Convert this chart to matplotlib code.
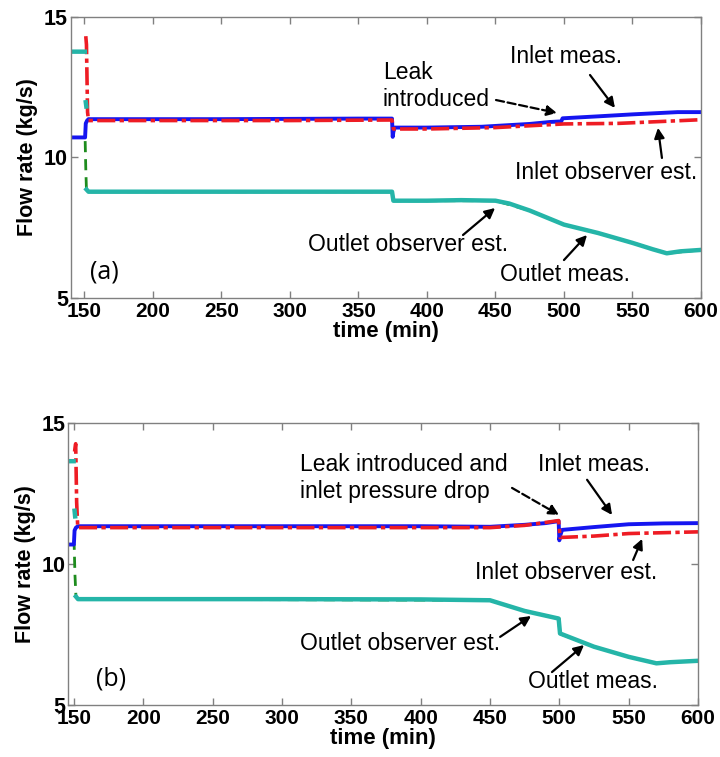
import numpy as np
import matplotlib
matplotlib.use('Agg')
import matplotlib.pyplot as plt

plt.rcParams['font.family'] = ['Liberation Sans', 'DejaVu Sans']

nan = np.nan

# ---- panel (a) data: time (min) / flow rate (kg/s) ----
a_inlet_t = [140, 150.5, 151, 152, 153, 200, 250, 300, 350, 374.5, 375, 375.5, 376.5,
             400, 440, 475, 490, 498, 499, 525, 550, 583, 600]
a_inlet_v = [10.7, 10.7, 11.2, 11.3, 11.35, 11.35, 11.35, 11.36, 11.37, 11.37, 10.72, 10.9, 11.05,
             11.05, 11.08, 11.18, 11.25, 11.27, 11.38, 11.45, 11.52, 11.6, 11.6]

a_obs_in_t = [151, 151.5, 152.3, 153, 200, 300, 374.5, 375.5, 400, 450, 500, 540, 600]
a_obs_in_v = [14.3, 14.0, 11.6, 11.3, 11.3, 11.3, 11.32, 11.0, 11.0, 11.05, 11.18, 11.2, 11.33]

a_out_meas_t = [140, 150.5, 151, 151.5, 153, 374.5, 375.5, 400, 450, 475, 500, 525, 550, 575, 600]
a_out_meas_v = [10.7, 10.7, 9.6, 8.82, 8.77, 8.77, 8.45, 8.45, 8.45, 8.1, 7.6, 7.3, 6.95, 6.58, 6.7]

a_obs_out_t = [140, 150.3, nan, 151, 151.4, nan, 151.5, 153, 200, 250, 300, 350, 374.5, 375.5,
               400, 425, 450, 460, 475, 500, 525, 550, 565, 575, 585, 600]
a_obs_out_v = [13.75, 13.75, nan, 11.95, 11.8, nan, 8.85, 8.77, 8.77, 8.77, 8.77, 8.77, 8.77, 8.45,
               8.45, 8.47, 8.45, 8.35, 8.1, 7.6, 7.3, 6.95, 6.72, 6.58, 6.65, 6.7]

# ---- panel (b) data ----
b_inlet_t = [146, 150, 150.5, 151.5, 153, 200, 300, 400, 450, 475, 490, 499.5, 500, 500.5, 502,
             525, 550, 575, 600]
b_inlet_v = [10.7, 10.7, 11.2, 11.3, 11.35, 11.35, 11.35, 11.35, 11.33, 11.4, 11.46, 11.53, 10.85, 11.0, 11.22,
             11.32, 11.42, 11.45, 11.46]

b_obs_in_t = [150.5, 151.3, 152, 152.8, 200, 300, 400, 450, 475, 499.5, 500.5, 525, 550, 575, 600]
b_obs_in_v = [14.0, 14.28, 12.2, 11.3, 11.3, 11.3, 11.3, 11.3, 11.38, 11.55, 10.95, 11.0, 11.09, 11.12, 11.15]

b_out_meas_t = [146, 150.2, 150.8, 151.5, 153, 450, 475, 499.8, 500, 525, 550, 570, 580, 600]
b_out_meas_v = [10.7, 10.7, 9.6, 8.85, 8.76, 8.72, 8.34, 8.07, 7.54, 7.07, 6.71, 6.48, 6.52, 6.57]

b_obs_out_t = [146, 149.8, nan, 150.5, 150.9, nan, 151.5, 153, 200, 300, 400, 450, 475, 499.5, 500.5,
               525, 550, 570, 580, 600]
b_obs_out_v = [13.66, 13.66, nan, 11.9, 11.7, nan, 8.85, 8.76, 8.76, 8.76, 8.75, 8.72, 8.34, 8.07, 7.54,
               7.07, 6.71, 6.48, 6.52, 6.57]

x_ticks = [150, 200, 250, 300, 350, 400, 450, 500, 550, 600]
y_ticks = [5, 10, 15]

c_blue = '#1515f0'
c_red = '#ee1c24'
c_cyan = '#25b5a8'
c_green = '#1e8c1e'
c_spine = '#808080'

fig = plt.figure(figsize=(7.2, 7.57), dpi=100)
ax_a = fig.add_axes([0.0982, 0.6067, 0.8754, 0.3715])
ax_b = fig.add_axes([0.0949, 0.0687, 0.8746, 0.3719])


def draw_panel(ax, inlet, obs_in, out_meas, obs_out, xlim):
    ax.plot(out_meas[0], out_meas[1], color=c_green, lw=2, ls=(0, (4, 2.5)))
    ax.plot(inlet[0], inlet[1], color=c_blue, lw=2.8)
    ax.plot(obs_in[0], obs_in[1], color=c_red, lw=2.6, ls=(0, (5, 1.2, 1.2, 1.2)))
    ax.plot(obs_out[0], obs_out[1], color=c_cyan, lw=3.2)
    ax.set_xlim(*xlim)
    ax.set_ylim(5, 15)
    ax.set_xticks(x_ticks)
    ax.set_yticks(y_ticks)
    ax.tick_params(direction='in', top=True, right=True, length=5, width=1, color=c_spine)
    ax.tick_params(axis='x', labelsize=15, pad=3)
    ax.tick_params(axis='y', labelsize=15.5, pad=2)
    for lab in ax.get_xticklabels() + ax.get_yticklabels():
        lab.set_fontweight('bold')
    for sp in ax.spines.values():
        sp.set_color(c_spine)
        sp.set_linewidth(1)
    ax.set_xlabel('time (min)', fontsize=16, fontweight='bold', labelpad=0)
    ax.set_ylabel('Flow rate (kg/s)', fontsize=15.5, fontweight='bold', labelpad=4)


def arrow(ax, tail, tip, dashed=False):
    ax.annotate('', xy=tip, xytext=tail,
                arrowprops=dict(arrowstyle='-|>', color='black', lw=1.6, mutation_scale=15,
                                shrinkA=0, shrinkB=0, linestyle='--' if dashed else '-'))


draw_panel(ax_a, (a_inlet_t, a_inlet_v), (a_obs_in_t, a_obs_in_v),
           (a_out_meas_t, a_out_meas_v), (a_obs_out_t, a_obs_out_v), (140, 600))
draw_panel(ax_b, (b_inlet_t, b_inlet_v), (b_obs_in_t, b_obs_in_v),
           (b_out_meas_t, b_out_meas_v), (b_obs_out_t, b_obs_out_v), (146, 600))

fs = 16.5
# panel (a) annotations
ax_a.text(367.9, 12.53, 'Leak\nintroduced', fontsize=fs, ha='left', va='center', linespacing=1.2)
arrow(ax_a, (450.4, 12.03), (494.9, 11.57), dashed=True)
ax_a.text(501.5, 13.56, 'Inlet meas.', fontsize=fs, ha='center', va='center')
arrow(ax_a, (519, 12.92), (537.2, 11.75))
ax_a.text(530.7, 9.47, 'Inlet observer est.', fontsize=fs, ha='center', va='center')
arrow(ax_a, (571.5, 9.97), (568.6, 11.04))
ax_a.text(386.2, 6.9, 'Outlet observer est.', fontsize=fs, ha='center', va='center')
arrow(ax_a, (426.3, 7.23), (449.7, 8.19))
ax_a.text(500.4, 5.84, 'Outlet meas.', fontsize=fs, ha='center', va='center')
arrow(ax_a, (500, 6.34), (516.8, 7.23))
ax_a.text(164.3, 5.91, '(a)', fontsize=18, family=['Open Sans', 'DejaVu Sans'], ha='center', va='center')

# panel (b) annotations
ax_b.text(313.1, 13.06, 'Leak introduced and\ninlet pressure drop', fontsize=fs, ha='left', va='center',
          linespacing=1.2)
arrow(ax_b, (465.9, 12.71), (499.8, 11.75), dashed=True)
ax_b.text(525.0, 13.53, 'Inlet meas.', fontsize=fs, ha='center', va='center')
arrow(ax_b, (520, 13.0), (538, 11.75))
ax_b.text(504.8, 9.72, 'Inlet observer est.', fontsize=fs, ha='center', va='center')
arrow(ax_b, (553.2, 10.15), (559.7, 10.9))
ax_b.text(385.2, 7.2, 'Outlet observer est.', fontsize=fs, ha='center', va='center')
arrow(ax_b, (457.3, 7.42), (479.6, 8.16))
ax_b.text(524.3, 5.85, 'Outlet meas.', fontsize=fs, ha='center', va='center')
arrow(ax_b, (494.7, 6.17), (517.8, 7.13))
ax_b.text(176.8, 5.92, '(b)', fontsize=18, family=['Open Sans', 'DejaVu Sans'], ha='center', va='center')

fig.savefig('out.png', dpi=100)
